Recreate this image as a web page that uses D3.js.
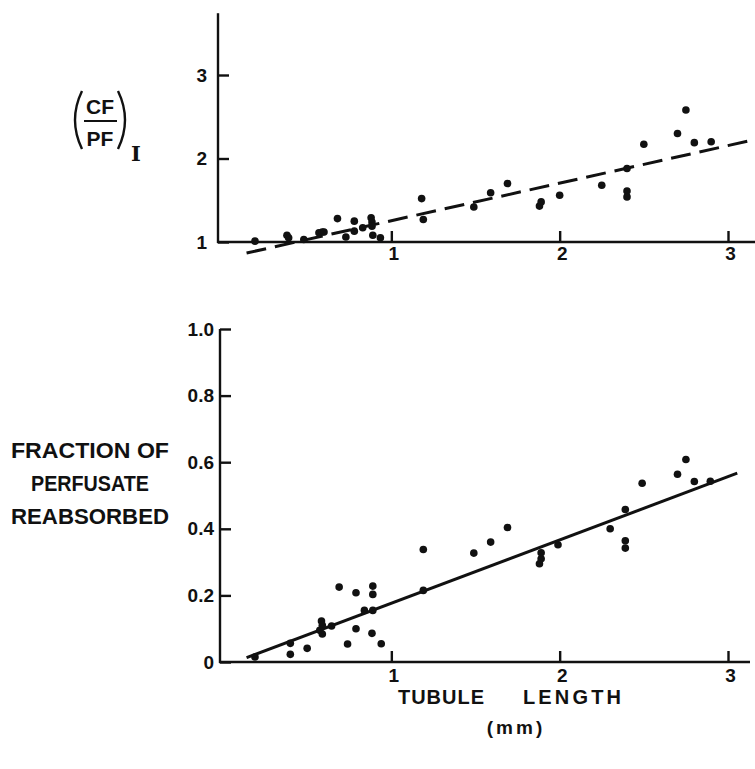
<!DOCTYPE html>
<html>
<head>
<meta charset="utf-8">
<script src="https://cdn.jsdelivr.net/npm/d3@7"></script>
<style>
  body { margin: 0; background: #fff; }
  svg { display: block; }
  text { fill: #111; }
</style>
</head>
<body>
<svg id="chart" width="755" height="769"></svg>
<script>
// ---------- data ----------
// Top panel: (CF/PF)_I vs tubule length (mm)
const topX = [0.19, 0.38, 0.39, 0.48, 0.57, 0.59, 0.60, 0.68, 0.73, 0.78, 0.78, 0.83, 0.88, 0.885, 0.885, 0.89, 0.935,
              1.18, 1.19, 1.49, 1.59, 1.69, 1.88, 1.89, 2.00, 2.25, 2.40, 2.40, 2.40, 2.50, 2.70, 2.75, 2.80, 2.90];
const topY = [1.01, 1.08, 1.05, 1.03, 1.11, 1.12, 1.12, 1.28, 1.06, 1.25, 1.13, 1.17, 1.29, 1.24, 1.19, 1.08, 1.05,
              1.52, 1.27, 1.42, 1.59, 1.70, 1.43, 1.48, 1.56, 1.68, 1.88, 1.61, 1.54, 2.17, 2.30, 2.58, 2.19, 2.20];
const topFitX = [0.14, 3.25];
const topFitY = [0.868, 2.267];

// Bottom panel: fraction of perfusate reabsorbed vs tubule length (mm)
const botX = [0.19, 0.40, 0.40, 0.50, 0.585, 0.59, 0.575, 0.59, 0.645, 0.69, 0.74, 0.79, 0.79, 0.84, 0.89, 0.89, 0.89, 0.885, 0.94,
              1.19, 1.19, 1.49, 1.59, 1.69, 1.88, 1.89, 1.89, 1.99, 2.30, 2.39, 2.39, 2.39, 2.49, 2.70, 2.75, 2.80, 2.895];
const botY = [0.015, 0.056, 0.023, 0.041, 0.123, 0.110, 0.095, 0.084, 0.108, 0.225, 0.054, 0.208, 0.100, 0.155, 0.228, 0.203, 0.155, 0.086, 0.055,
              0.338, 0.215, 0.327, 0.360, 0.404, 0.295, 0.310, 0.328, 0.352, 0.400, 0.458, 0.364, 0.342, 0.537, 0.564, 0.608, 0.542, 0.543];
const botFitX = [0.14, 3.055];
const botFitY = [0.013, 0.567];

const xTicks = [1, 2, 3];
const topYTicks = [1, 2, 3];
const botYTicks = [0, 0.2, 0.4, 0.6, 0.8, 1.0];
const botYTickLabels = ["0", "0.2", "0.4", "0.6", "0.8", "1.0"];

// ---------- drawing ----------
const svg = d3.select("#chart");
svg.append("rect").attr("width", 755).attr("height", 769).attr("fill", "#fff");

const FONT = "'Liberation Sans', Arial, sans-serif";
const AXW = 2.4;
const TICKFS = 19;

const x = d3.scaleLinear().domain([0, 3]).range([223, 728]);
const yTop = d3.scaleLinear().domain([1, 3]).range([242, 75]);
const yBot = d3.scaleLinear().domain([0, 1]).range([662, 329]);

function panel(y, yTicks, yLabels, axisX, axisTopVal, xEnd, fitX, fitY, ptsX, ptsY, dashed, xLabPad, yLabPad) {
  const g = svg.append("g");
  const y0 = y(y.domain()[0]);
  g.append("line").attr("x1", axisX).attr("x2", axisX).attr("y1", y(axisTopVal)).attr("y2", y0 + 1)
    .attr("stroke", "#111").attr("stroke-width", AXW);
  g.append("line").attr("x1", axisX - 1).attr("x2", xEnd).attr("y1", y0).attr("y2", y0)
    .attr("stroke", "#111").attr("stroke-width", AXW);

  const xa = g.append("g").attr("transform", `translate(0,${y0})`)
    .call(d3.axisBottom(x).tickValues(xTicks).tickFormat(d3.format("d")).tickSizeInner(-11).tickSizeOuter(0).tickPadding(xLabPad));
  xa.select(".domain").remove();
  xa.selectAll(".tick line").attr("stroke", "#111").attr("stroke-width", AXW);
  xa.selectAll(".tick text").attr("font-family", FONT).attr("font-weight", "bold").attr("font-size", TICKFS).attr("fill", "#111").attr("dx", 2);

  const ya = g.append("g").attr("transform", `translate(${axisX},0)`)
    .call(d3.axisLeft(y).tickValues(yTicks).tickFormat((d, i) => yLabels[i]).tickSizeInner(-11).tickSizeOuter(0).tickPadding(yLabPad));
  ya.select(".domain").remove();
  ya.selectAll(".tick line").attr("stroke", "#111").attr("stroke-width", AXW);
  ya.selectAll(".tick text").attr("font-family", FONT).attr("font-weight", "bold").attr("font-size", TICKFS).attr("fill", "#111");

  const line = d3.line().x(d => x(d[0])).y(d => y(d[1]));
  g.append("path").datum(d3.zip(fitX, fitY)).attr("d", line)
    .attr("fill", "none").attr("stroke", "#111").attr("stroke-width", 3)
    .attr("stroke-dasharray", dashed ? "20,9" : null);

  g.selectAll("circle").data(d3.zip(ptsX, ptsY)).join("circle")
    .attr("cx", d => x(d[0])).attr("cy", d => y(d[1])).attr("r", 3.8).attr("fill", "#111");
}

panel(yTop, topYTicks, topYTicks.map(String), 218, 3.74, 755, topFitX, topFitY, topX, topY, true, 5, 11);
panel(yBot, botYTicks, botYTickLabels, 220, 1.0, 750, botFitX, botFitY, botX, botY, false, 7, 6);

// ---------- top y label (CF/PF)_I ----------
const lab = svg.append("g");
lab.append("path").attr("d", "M82,91 Q68,120 82,149").attr("fill", "none").attr("stroke", "#111").attr("stroke-width", 2.4);
lab.append("path").attr("d", "M118,91 Q132,120 118,149").attr("fill", "none").attr("stroke", "#111").attr("stroke-width", 2.4);
lab.append("text").attr("x", 100).attr("y", 114).attr("text-anchor", "middle")
  .attr("font-family", FONT).attr("font-weight", "bold").attr("font-size", 21).text("CF");
lab.append("line").attr("x1", 84).attr("x2", 117).attr("y1", 121).attr("y2", 121).attr("stroke", "#111").attr("stroke-width", 2.2);
lab.append("text").attr("x", 100).attr("y", 146).attr("text-anchor", "middle")
  .attr("font-family", FONT).attr("font-weight", "bold").attr("font-size", 21).text("PF");
lab.append("text").attr("x", 136).attr("y", 161).attr("text-anchor", "middle")
  .attr("font-family", "'DejaVu Serif', serif").attr("font-weight", "bold").attr("font-size", 21).text("I");

// ---------- bottom y label ----------
const ylab = [["FRACTION OF", 458, 158], ["PERFUSATE", 491, 118], ["REABSORBED", 524, 158]];
ylab.forEach(([t, yy, w]) => {
  svg.append("text").attr("x", 90).attr("y", yy).attr("text-anchor", "middle")
    .attr("font-family", FONT).attr("font-weight", "bold").attr("font-size", 22)
    .attr("textLength", w).attr("lengthAdjust", "spacingAndGlyphs").text(t);
});

// ---------- x axis title ----------
svg.append("text").attr("x", 398).attr("y", 704)
  .attr("font-family", FONT).attr("font-weight", "bold").attr("font-size", 20)
  .attr("textLength", 86).attr("lengthAdjust", "spacing").text("TUBULE");
svg.append("text").attr("x", 523).attr("y", 704)
  .attr("font-family", FONT).attr("font-weight", "bold").attr("font-size", 20)
  .attr("textLength", 98).attr("lengthAdjust", "spacing").text("LENGTH");
svg.append("text").attr("x", 516).attr("y", 734).attr("text-anchor", "middle")
  .attr("font-family", FONT).attr("font-weight", "bold").attr("font-size", 19)
  .attr("letter-spacing", 3).text("(mm)");
</script>
</body>
</html>
